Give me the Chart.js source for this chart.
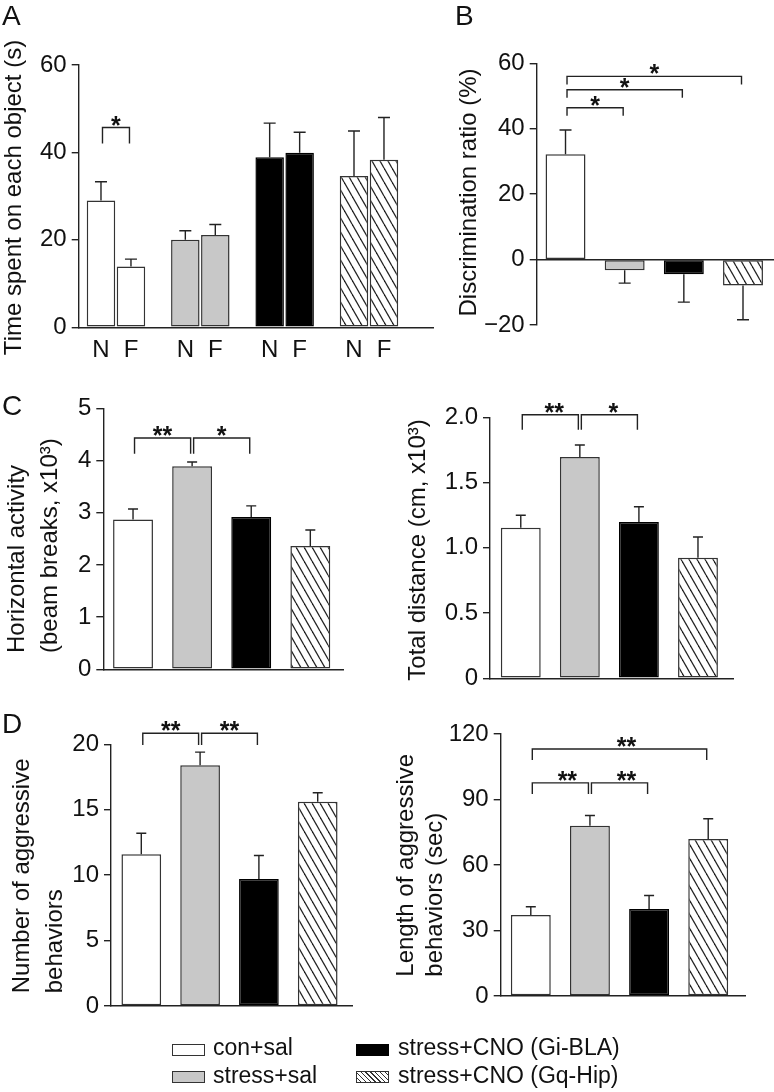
<!DOCTYPE html>
<html>
<head>
<meta charset="utf-8">
<script src="https://cdn.jsdelivr.net/npm/chart.js@4.4.1/dist/chart.umd.min.js"></script>
<style>
  body { margin: 0; background: #fff; }
  #fig { position: relative; width: 774px; height: 1092px; overflow: hidden;
         font-family: "Liberation Sans", Arial, sans-serif; color: #111; }
  canvas { position: absolute; }
  .lg { position: absolute; font-size: 23px; line-height: 26px; white-space: nowrap; }
  .sw { position: absolute; width: 33px; height: 12px; border: 1px solid #333; box-sizing: border-box; }
</style>
</head>
<body>
<div id="fig">
  <canvas id="cA"></canvas>
  <canvas id="cB"></canvas>
  <canvas id="cC1"></canvas>
  <canvas id="cC2"></canvas>
  <canvas id="cD1"></canvas>
  <canvas id="cD2"></canvas>

  <div class="sw" style="left:172px;top:1044px;background:#fff"></div>
  <div class="lg" style="left:213px;top:1034px">con+sal</div>
  <div class="sw" style="left:172px;top:1071px;background:#c8c8c8"></div>
  <div class="lg" style="left:213px;top:1062px">stress+sal</div>
  <div class="sw" style="left:356px;top:1044px;background:#000;border-color:#000"></div>
  <div class="lg" style="left:398px;top:1034px">stress+CNO (Gi-BLA)</div>
  <div class="sw" style="left:356px;top:1071px;background:repeating-linear-gradient(45deg,#fff 0 2.4px,#333 2.4px 3.4px)"></div>
  <div class="lg" style="left:398px;top:1062px">stress+CNO (Gq-Hip)</div>
</div>

<script>
// groups (legend order) and object labels for panel A
var groups = ["con+sal", "stress+sal", "stress+CNO (Gi-BLA)", "stress+CNO (Gq-Hip)"];
var objLabels = ["N", "F"];

// A - time spent on novel / familiar object (s)
var timeNovel = [29.0, 20.0, 38.9, 34.6];
var timeNovelSem = [4.3, 2.1, 7.8, 10.3];
var timeFamiliar = [13.9, 21.1, 39.9, 38.3];
var timeFamiliarSem = [1.7, 2.4, 4.7, 9.7];
var ticksA = [0, 20, 40, 60];

// B - discrimination ratio (%)
var discRatio = [32.2, -3.3, -4.5, -7.9];
var discRatioSem = [7.4, 3.9, 8.5, 10.5];
var ticksB = [-20, 0, 20, 40, 60];

// C - horizontal activity (x10^3) and total distance (cm, x10^3)
var horizActivity = [2.87, 3.89, 2.92, 2.36];
var horizActivitySem = [0.20, 0.08, 0.21, 0.31];
var ticksC1 = [0, 1, 2, 3, 4, 5];
var totalDistance = [1.154, 1.696, 1.198, 0.924];
var totalDistanceSem = [0.095, 0.092, 0.117, 0.159];
var ticksC2 = [0, 0.5, 1.0, 1.5, 2.0];

// D - number / length of aggressive behaviors
var aggrNumber = [11.6, 18.4, 9.7, 15.6];
var aggrNumberSem = [1.6, 1.0, 1.8, 0.7];
var ticksD1 = [0, 5, 10, 15, 20];
var aggrLength = [37.1, 78.0, 39.8, 71.9];
var aggrLengthSem = [3.8, 4.7, 6.2, 9.3];
var ticksD2 = [0, 30, 60, 90, 120];

// significance brackets: [from bar, to bar, height (data units), label]
var sigA = [[[0, 0], [1, 0], 45.7, "*"]];
var sigB = [[0, 1, 46.4, "*"], [0, 2, 51.9, "*"], [0, 3, 56.0, "*"]];
var sigC1 = [[0, 1, 4.43, "**"], [1, 2, 4.43, "*"]];
var sigC2 = [[0, 1, 2.02, "**"], [1, 2, 2.02, "*"]];
var sigD1 = [[0, 1, 20.85, "**"], [1, 2, 20.85, "**"]];
var sigD2 = [[0, 3, 113.1, "**"], [0, 1, 97.6, "**"], [1, 2, 97.6, "**"]];

Chart.defaults.font.family = '"Liberation Sans", Arial, sans-serif';
Chart.defaults.color = '#111';

var FONT = '"Liberation Sans", Arial, sans-serif';
var YW = 60;

function hatch(ctx) {
  var c = document.createElement('canvas');
  c.width = 8; c.height = 14;
  var g = c.getContext('2d');
  g.fillStyle = '#fff'; g.fillRect(0, 0, 8, 14);
  g.strokeStyle = '#222'; g.lineWidth = 1.3;
  [-8, 0, 8].forEach(function (k) {
    g.beginPath(); g.moveTo(k, 0); g.lineTo(k + 8, 14); g.stroke();
  });
  return ctx.createPattern(c, 'repeat');
}

function barAt(chart, ref) {
  if (Array.isArray(ref)) return chart.getDatasetMeta(ref[0]).data[ref[1]];
  return chart.getDatasetMeta(0).data[ref];
}

function decor(box, d) {
  return {
    id: 'decor',
    afterDatasetsDraw: function (chart) {
      var ctx = chart.ctx, ys = chart.scales.y;
      ctx.save();
      ctx.strokeStyle = '#222'; ctx.lineWidth = 1.4; ctx.fillStyle = '#111';

      // error bars
      d.errors.forEach(function (e, di) {
        var bars = chart.getDatasetMeta(di).data;
        e[0].forEach(function (v, i) {
          var x = bars[i].x;
          var y0 = ys.getPixelForValue(v);
          var y1 = ys.getPixelForValue(v < 0 ? v - e[1][i] : v + e[1][i]);
          ctx.beginPath();
          ctx.moveTo(x, y0); ctx.lineTo(x, y1);
          ctx.moveTo(x - d.cap, y1); ctx.lineTo(x + d.cap, y1);
          ctx.stroke();
        });
      });

      // brackets + stars
      ctx.font = 'bold 25px ' + FONT;
      ctx.textAlign = 'center'; ctx.textBaseline = 'alphabetic';
      d.sig.forEach(function (s) {
        var xa = barAt(chart, s[0]).x + 1.5, xb = barAt(chart, s[1]).x - 1.5;
        var py = ys.getPixelForValue(s[2]);
        ctx.beginPath();
        ctx.moveTo(xa, py + d.leg); ctx.lineTo(xa, py);
        ctx.lineTo(xb, py); ctx.lineTo(xb, py + d.leg);
        ctx.stroke();
        ctx.fillText(s[3], (xa + xb) / 2 + (d.starDx || 0), py + 6);
      });

      // N / F under bars (panel A)
      if (d.under) {
        ctx.font = '24px ' + FONT;
        d.under.labels.forEach(function (t, di) {
          chart.getDatasetMeta(di).data.forEach(function (bar) {
            ctx.fillText(t, bar.x, d.under.y - box.t);
          });
        });
      }

      // axis title and panel letter, page coordinates
      ctx.translate(-box.l, -box.t);
      ctx.font = '24px ' + FONT;
      ctx.textAlign = d.title.align;
      d.title.lines.forEach(function (t, k) {
        ctx.save();
        ctx.translate(d.title.x[k], d.title.y);
        ctx.rotate(-Math.PI / 2);
        ctx.fillText(t, 0, 0);
        ctx.restore();
      });
      if (d.letter) {
        ctx.font = '28px ' + FONT;
        ctx.textAlign = 'left';
        ctx.fillText(d.letter[0], d.letter[1], d.letter[2]);
      }
      ctx.restore();
    }
  };
}

function fmt(v) {
  return v < 0 ? '\u2212' + (-v) : String(v);
}

function barChart(id, box, area, xr, yTicks, datasets, d) {
  var cv = document.getElementById(id);
  cv.width = box.w; cv.height = box.h;
  cv.style.left = box.l + 'px'; cv.style.top = box.t + 'px';
  var ctx = cv.getContext('2d');
  var pat = hatch(ctx);
  datasets.forEach(function (ds) {
    ds.backgroundColor = ['#ffffff', '#c8c8c8', '#000000', pat];
    ds.borderColor = ['#333', '#333', '#000', '#333'];
    ds.borderWidth = 1.5;
    ds.borderSkipped = false;
  });
  return new Chart(ctx, {
    type: 'bar',
    data: { datasets: datasets },
    options: {
      responsive: false,
      animation: false,
      layout: { padding: {
        left: area.x0 - box.l - YW,
        right: box.l + box.w - area.x1,
        top: area.y0 - box.t,
        bottom: box.t + box.h - area.y1
      } },
      plugins: { legend: { display: false }, tooltip: { enabled: false } },
      scales: {
        x: {
          type: 'linear', min: xr[0], max: xr[1], bounds: 'data', offset: false,
          position: d.zeroAxis ? { y: 0 } : 'bottom',
          grid: { display: false },
          border: { display: true, color: '#222', width: 1.4 },
          ticks: { display: false },
          afterBuildTicks: function (s) { s.ticks = [1, 2, 3, 4].map(function (v) { return { value: v }; }); },
          afterFit: function (s) { s.height = 0; }
        },
        y: {
          min: yTicks[0], max: yTicks[yTicks.length - 1], bounds: 'data',
          afterBuildTicks: function (s) { s.ticks = yTicks.map(function (v) { return { value: v }; }); },
          afterFit: function (s) { s.width = YW; },
          grid: { drawOnChartArea: false, tickLength: 7, color: '#222', lineWidth: 1.4 },
          border: { display: true, color: '#222', width: 1.4 },
          ticks: { font: { size: 24 }, color: '#111', padding: 5, callback: d.fmt || fmt }
        }
      }
    },
    plugins: [decor(box, d)]
  });
}

function pts(vals) {
  return vals.map(function (v, i) { return { x: i + 1, y: v }; });
}

function single(vals) {
  return [{ label: 'mean', data: pts(vals), barPercentage: 0.675, categoryPercentage: 1 }];
}

// A
barChart('cA', { l: 0, t: 0, w: 440, h: 365 }, { x0: 78.7, x1: 433, y0: 65, y1: 327.3 },
  [0.558, 4.759], ticksA,
  [
    { label: objLabels[0], data: pts(timeNovel), barPercentage: 0.95, categoryPercentage: 0.711 },
    { label: objLabels[1], data: pts(timeFamiliar), barPercentage: 0.95, categoryPercentage: 0.711 }
  ],
  { errors: [[timeNovel, timeNovelSem], [timeFamiliar, timeFamiliarSem]], cap: 6,
    sig: sigA, leg: 16, under: { labels: objLabels, y: 357 },
    title: { lines: ['Time spent on each object (s)'], x: [21], y: 197.5, align: 'center' },
    letter: ['A', 2, 25] });

// B
barChart('cB', { l: 440, t: 0, w: 334, h: 365 }, { x0: 536.7, x1: 773, y0: 63.3, y1: 325 },
  [0.513, 4.507], ticksB, single(discRatio),
  { errors: [[discRatio, discRatioSem]], cap: 6, sig: sigB, leg: 8, zeroAxis: true,
    title: { lines: ['Discrimination ratio (%)'], x: [476], y: 192.5, align: 'center' },
    letter: ['B', 455, 25] });

// C left
barChart('cC1', { l: 0, t: 365, w: 360, h: 340 }, { x0: 103.3, x1: 343.3, y0: 408.3, y1: 669.3 },
  [0.497, 4.558], ticksC1, single(horizActivity),
  { errors: [[horizActivity, horizActivitySem]], cap: 5, sig: sigC1, leg: 15.7,
    title: { lines: ['Horizontal activity', '(beam breaks, x10\u00b3)'], x: [24, 56.7], y: 653, align: 'left' },
    letter: ['C', 2, 415] });

// C right
barChart('cC2', { l: 370, t: 365, w: 404, h: 340 }, { x0: 490, x1: 733.3, y0: 417.3, y1: 678.3 },
  [0.479, 4.598], ticksC2, single(totalDistance),
  { errors: [[totalDistance, totalDistanceSem]], cap: 5, sig: sigC2, leg: 15, starDx: 4,
    fmt: function (v) { return v === 0 ? '0' : v.toFixed(1); },
    title: { lines: ['Total distance (cm, x10\u00b3)'], x: [425], y: 550, align: 'center' } });

// D left
barChart('cD1', { l: 0, t: 705, w: 370, h: 330 }, { x0: 111, x1: 352.7, y0: 744.3, y1: 1006 },
  [0.485, 4.595], ticksD1, single(aggrNumber),
  { errors: [[aggrNumber, aggrNumberSem]], cap: 5, sig: sigD1, leg: 11.7,
    title: { lines: ['Number of aggressive', 'behaviors'], x: [29.3, 61.7], y: 993.3, align: 'left' },
    letter: ['D', 2, 733] });

// D right
barChart('cD2', { l: 370, t: 705, w: 404, h: 330 }, { x0: 500.7, x1: 745, y0: 734, y1: 996 },
  [0.491, 4.622], ticksD2, single(aggrLength),
  { errors: [[aggrLength, aggrLengthSem]], cap: 5, sig: sigD2, leg: 11, starDx: 7,
    title: { lines: ['Length of aggressive', 'behaviors (sec)'], x: [412.7, 441.7], y: 976.7, align: 'left' } });
</script>
</body>
</html>
